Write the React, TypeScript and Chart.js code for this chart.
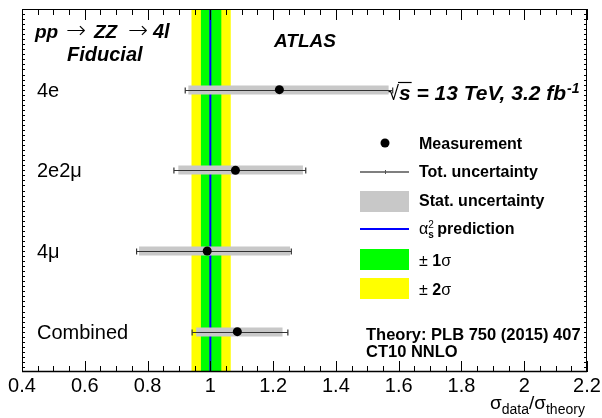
import React, { useEffect, useRef } from "react";
import { Chart, registerables } from "chart.js";

Chart.register(...registerables);

// ---- data ----
const channelLabels = ["4e", "2e2μ", "4μ", "Combined"];
const rowPos = [3, 2, 1, 0];
const central = [1.22, 1.08, 0.99, 1.086];
const totLow = [0.92, 0.884, 0.765, 0.942];
const totHigh = [1.581, 1.304, 1.258, 1.247];
const statLow = [0.93, 0.898, 0.773, 0.955];
const statHigh = [1.568, 1.295, 1.254, 1.23];
const prediction = 1.0;
const band1 = [0.97, 1.035];
const band2 = [0.94, 1.065];
const xTickValues = [0.4, 0.6, 0.8, 1.0, 1.2, 1.4, 1.6, 1.8, 2.0, 2.2];
const xTickLabels = ["0.4", "0.6", "0.8", "1", "1.2", "1.4", "1.6", "1.8", "2", "2.2"];
const xMin = 0.4;
const xMax = 2.2;
const yMin = -0.5;
const yMax = 4.0;

const FF = '"Liberation Sans", Arial, Helvetica, sans-serif';
const SYM = '"DejaVu Sans", "Liberation Sans", sans-serif';

function line(ctx: CanvasRenderingContext2D, x0: number, y0: number, x1: number, y1: number) {
  ctx.beginPath();
  ctx.moveTo(x0, y0);
  ctx.lineTo(x1, y1);
  ctx.stroke();
}

function text(ctx: CanvasRenderingContext2D, s: string, x: number, y: number, font: string, align: CanvasTextAlign = "left") {
  ctx.font = font;
  ctx.textAlign = align;
  ctx.textBaseline = "alphabetic";
  ctx.fillStyle = "#000";
  ctx.fillText(s, x, y);
  return ctx.measureText(s).width;
}

const atlasPlugin = {
  id: "atlasPlugin",
  beforeDatasetsDraw(chart: any) {
    const { ctx, chartArea: a, scales } = chart;
    const x = scales.x;
    const y = scales.y;
    ctx.save();
    const fillBand = (b: number[], color: string) => {
      const x0 = x.getPixelForValue(b[0]);
      const x1 = x.getPixelForValue(b[1]);
      ctx.fillStyle = color;
      ctx.fillRect(x0, a.top, x1 - x0, a.bottom - a.top);
    };
    fillBand(band2, "#ffff00");
    fillBand(band1, "#00ff00");
    const px = x.getPixelForValue(prediction);
    ctx.strokeStyle = "#0000ff";
    ctx.lineWidth = 2;
    line(ctx, px, a.top, px, a.bottom);

    for (let i = 0; i < rowPos.length; i++) {
      const yy = Math.round(y.getPixelForValue(rowPos[i]));
      const s0 = x.getPixelForValue(statLow[i]);
      const s1 = x.getPixelForValue(statHigh[i]);
      ctx.fillStyle = "#c8c8c8";
      ctx.fillRect(s0, yy - 4.5, s1 - s0, 9);
      const t0 = x.getPixelForValue(totLow[i]);
      const t1 = x.getPixelForValue(totHigh[i]);
      ctx.strokeStyle = "#333";
      ctx.lineWidth = 1.2;
      line(ctx, t0, yy + 0.5, t1, yy + 0.5);
      line(ctx, t0, yy - 2.5, t0, yy + 3.5);
      line(ctx, t1, yy - 2.5, t1, yy + 3.5);
    }
    ctx.restore();
  },
  afterDatasetsDraw(chart: any) {
    const { ctx, chartArea: a, scales } = chart;
    const x = scales.x;
    const y = scales.y;
    ctx.save();
    // frame
    ctx.strokeStyle = "#000";
    ctx.lineWidth = 1;
    ctx.strokeRect(a.left + 0.5, a.top + 0.5, a.right - a.left - 1, a.bottom - a.top - 1);
    ctx.lineWidth = 1.5;
    line(ctx, a.left, a.bottom - 0.5, a.right, a.bottom - 0.5);

    // x ticks (major every 0.2, minor every 0.05)
    ctx.lineWidth = 1;
    const nMinor = Math.round((xMax - xMin) / 0.05);
    for (let k = 0; k <= nMinor; k++) {
      const v = xMin + k * 0.05;
      const p = Math.round(x.getPixelForValue(v)) + 0.5;
      const len = k % 4 === 0 ? 11 : 6;
      line(ctx, p, a.bottom, p, a.bottom - len);
      line(ctx, p, a.top, p, a.top + len);
    }
    // y minor ticks
    const yStep = 0.0625;
    const nY = Math.round((yMax - yMin) / yStep);
    for (let k = 1; k < nY; k++) {
      const p = Math.round(y.getPixelForValue(yMin + k * yStep)) + 0.5;
      line(ctx, a.left, p, a.left + 3, p);
      line(ctx, a.right, p, a.right - 3, p);
    }

    // x tick labels
    for (let i = 0; i < xTickValues.length; i++) {
      const p = x.getPixelForValue(xTickValues[i]);
      text(ctx, xTickLabels[i], p, 392, `20px ${FF}`, "center");
    }

    // axis title sigma_data / sigma_theory
    let tx = 490;
    tx += text(ctx, "σ", tx, 409, `19px ${FF}`);
    tx += text(ctx, "data", tx, 414, `14px ${FF}`);
    tx += text(ctx, "/", tx, 409, `19px ${FF}`);
    tx += text(ctx, "σ", tx, 409, `19px ${FF}`);
    text(ctx, "theory", tx, 414, `14px ${FF}`);

    // channel labels
    for (let i = 0; i < channelLabels.length; i++) {
      const yy = y.getPixelForValue(rowPos[i]);
      text(ctx, channelLabels[i], 37, yy + 7, `20px ${FF}`);
    }

    // process title
    const bi = `italic bold 19px ${FF}`;
    text(ctx, "pp", 35, 38, bi);
    text(ctx, "→", 76, 38, `200 24px ${SYM}`, "center");
    text(ctx, "ZZ", 94, 38, bi);
    text(ctx, "→", 138, 38, `200 24px ${SYM}`, "center");
    text(ctx, "4l", 153, 38, `italic bold 20px ${FF}`);
    text(ctx, "Fiducial", 67, 61, `italic bold 20px ${FF}`);
    text(ctx, "ATLAS", 274, 47, `italic bold 19px ${FF}`);

    // sqrt(s) label
    const rw = text(ctx, "√", 388, 100, `20px ${FF}`);
    const sw = text(ctx, "s", 388 + rw, 100, `italic bold 21px ${FF}`);
    ctx.strokeStyle = "#000";
    ctx.lineWidth = 1.2;
    line(ctx, 388 + rw - 1, 82.5, 388 + rw + sw + 1, 82.5);
    const mw = text(ctx, " = 13 TeV, 3.2 fb", 388 + rw + sw, 100, `italic bold 21px ${FF}`);
    text(ctx, "-1", 388 + rw + sw + mw + 1, 93, `italic bold 14px ${FF}`);

    // legend
    const lx0 = 360;
    const lx1 = 409;
    const tx0 = 419;
    const lf = `bold 16px ${FF}`;
    ctx.fillStyle = "#000";
    ctx.beginPath();
    ctx.arc(385, 143, 4.5, 0, Math.PI * 2);
    ctx.fill();
    text(ctx, "Measurement", tx0, 149, lf);

    ctx.strokeStyle = "#555";
    ctx.lineWidth = 1.5;
    line(ctx, lx0, 172, lx1, 172);
    ctx.lineWidth = 1;
    line(ctx, 385.5, 170, 385.5, 174);
    text(ctx, "Tot. uncertainty", tx0, 177, lf);

    ctx.fillStyle = "#c8c8c8";
    ctx.fillRect(lx0, 191, lx1 - lx0, 21);
    text(ctx, "Stat. uncertainty", tx0, 206, lf);

    ctx.strokeStyle = "#0000ff";
    ctx.lineWidth = 2;
    line(ctx, lx0, 229, lx1, 229);
    const aw = text(ctx, "α", tx0, 234, `16px ${FF}`);
    text(ctx, "2", tx0 + aw, 228, `10px ${FF}`);
    text(ctx, "s", tx0 + aw, 238, `bold 10px ${FF}`);
    text(ctx, "prediction", tx0 + aw + 9, 234, lf);

    ctx.fillStyle = "#00ff00";
    ctx.fillRect(lx0, 249, lx1 - lx0, 21);
    let w1 = text(ctx, "± ", tx0, 266, `16px ${FF}`);
    w1 += text(ctx, "1", tx0 + w1, 266, lf);
    text(ctx, "σ", tx0 + w1, 266, `16px ${FF}`);

    ctx.fillStyle = "#ffff00";
    ctx.fillRect(lx0, 278, lx1 - lx0, 21);
    let w2 = text(ctx, "± ", tx0, 295, `16px ${FF}`);
    w2 += text(ctx, "2", tx0 + w2, 295, lf);
    text(ctx, "σ", tx0 + w2, 295, `16px ${FF}`);

    text(ctx, "Theory: PLB 750 (2015) 407", 366, 340, `bold 16.5px ${FF}`);
    text(ctx, "CT10 NNLO", 366, 357, `bold 16.5px ${FF}`);

    ctx.restore();
  },
};

export default function App() {
  const ref = useRef<HTMLCanvasElement>(null);
  useEffect(() => {
    if (!ref.current) return;
    const chart = new Chart(ref.current, {
      type: "scatter",
      data: {
        datasets: [
          {
            label: "Measurement",
            data: central.map((v, i) => ({ x: v, y: rowPos[i] })),
            pointRadius: 4.5,
            pointBackgroundColor: "#000",
            pointBorderColor: "#000",
            pointBorderWidth: 0,
          },
        ],
      },
      options: {
        animation: false,
        responsive: false,
        devicePixelRatio: 1,
        layout: { padding: { left: 22, right: 15, top: 9, bottom: 46 }, autoPadding: false },
        scales: {
          x: { type: "linear", min: xMin, max: xMax, display: false },
          y: { type: "linear", min: yMin, max: yMax, display: false },
        },
        plugins: { legend: { display: false }, tooltip: { enabled: false } },
      },
      plugins: [atlasPlugin],
    } as any);
    return () => chart.destroy();
  }, []);
  return (
    <div style={{ position: "fixed", left: 0, top: 0, width: 602, height: 418, background: "#fff" }}>
      <canvas ref={ref} width={602} height={418} style={{ display: "block", width: 602, height: 418 }} />
    </div>
  );
}
